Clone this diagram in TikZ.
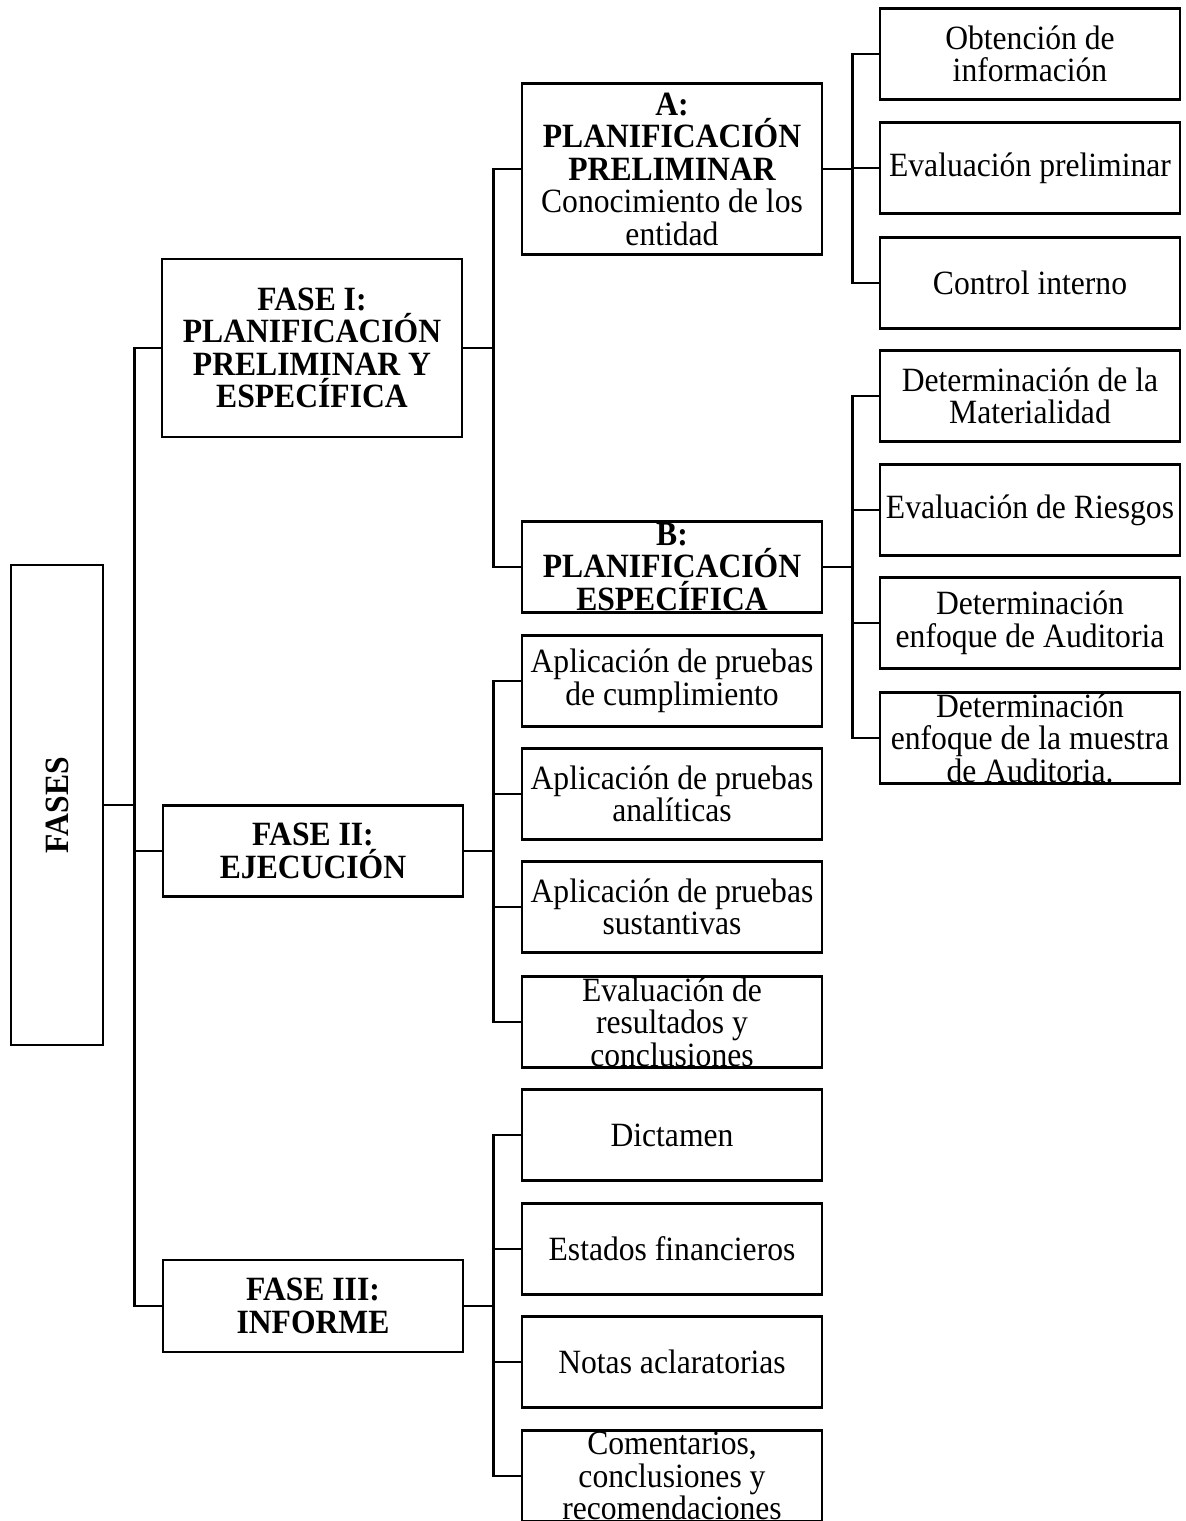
\documentclass[tikz,border=0pt]{standalone}
\usepackage{fontspec}
\setmainfont{Liberation Serif}[FakeStretch=0.93]
\tikzset{
  caja/.style={draw, line width=2.8pt, minimum width=300pt, minimum height=91pt, inner sep=0pt},
  txt/.style={align=center, inner sep=0pt, font=\fontsize{34}{32.5}\selectfont},
  rama/.style={line width=2.8pt},
}
\begin{document}
\begin{tikzpicture}[x=1pt, y=-1pt]
  \useasboundingbox (0,0) rectangle (1186,1521);
  % raiz y fases
  \node[caja, minimum width=92pt, minimum height=480pt, label={[txt, rotate=90]center:{\bfseries FASES}}] (fases) at (57,805) {};
  \node[caja, minimum height=178pt, label={[txt]center:{\bfseries FASE I:\\\bfseries PLANIFICACIÓN\\\bfseries PRELIMINAR Y\\\bfseries ESPECÍFICA}}] (f1) at (312,348) {};
  \node[caja, label={[txt]center:{\bfseries FASE II:\\\bfseries EJECUCIÓN}}] (f2) at (313,851) {};
  \node[caja, minimum height=92pt, label={[txt]center:{\bfseries FASE III:\\\bfseries INFORME}}] (f3) at (313,1306) {};
  % fase I
  \node[caja, minimum height=171pt, label={[txt]center:{\bfseries A:\\\bfseries PLANIFICACIÓN\\\bfseries PRELIMINAR\\Conocimiento de los\\entidad}}] (pa) at (672,169) {};
  \node[caja, label={[txt]center:{\bfseries B:\\\bfseries PLANIFICACIÓN\\\bfseries ESPECÍFICA}}] (pb) at (672,567) {};
  \node[caja, label={[txt]center:{Obtención de\\información}}] (obt) at (1030,54) {};
  \node[caja, label={[txt]center:{Evaluación preliminar}}] (evp) at (1030,168) {};
  \node[caja, label={[txt]center:{Control interno}}] (cint) at (1030,283) {};
  \node[caja, label={[txt]center:{Determinación de la\\Materialidad}}] (mat) at (1030,396) {};
  \node[caja, label={[txt]center:{Evaluación de Riesgos}}] (rie) at (1030,510) {};
  \node[caja, label={[txt]center:{Determinación\\enfoque de Auditoria}}] (enf) at (1030,623) {};
  \node[caja, label={[txt]center:{Determinación\\enfoque de la muestra\\de Auditoria.}}] (mue) at (1030,738) {};
  % fase II
  \node[caja, label={[txt]center:{Aplicación de pruebas\\de cumplimiento}}] (cum) at (672,681) {};
  \node[caja, label={[txt]center:{Aplicación de pruebas\\analíticas}}] (ana) at (672,794) {};
  \node[caja, label={[txt]center:{Aplicación de pruebas\\sustantivas}}] (sus) at (672,907) {};
  \node[caja, label={[txt]center:{Evaluación de\\resultados y\\conclusiones}}] (res) at (672,1022) {};
  % fase III
  \node[caja, label={[txt]center:{Dictamen}}] (dic) at (672,1135) {};
  \node[caja, label={[txt]center:{Estados financieros}}] (est) at (672,1249) {};
  \node[caja, label={[txt]center:{Notas aclaratorias}}] (nota) at (672,1362) {};
  \node[caja, label={[txt]center:{Comentarios,\\conclusiones y\\recomendaciones}}] (com) at (672,1476) {};
  % conectores
  \foreach \n in {f1,f2,f3} \draw[rama] (fases.east) -- ++(30,0) |- (\n.west);
  \foreach \n in {pa,pb} \draw[rama] (f1.east) -- ++(30,0) |- (\n.west);
  \foreach \n in {obt,evp,cint} \draw[rama] (pa.east) -- ++(29,0) |- (\n.west);
  \foreach \n in {mat,rie,enf,mue} \draw[rama] (pb.east) -- ++(29,0) |- (\n.west);
  \foreach \n in {cum,ana,sus,res} \draw[rama] (f2.east) -- ++(29,0) |- (\n.west);
  \foreach \n in {dic,est,nota,com} \draw[rama] (f3.east) -- ++(29,0) |- (\n.west);
\end{tikzpicture}
\end{document}
